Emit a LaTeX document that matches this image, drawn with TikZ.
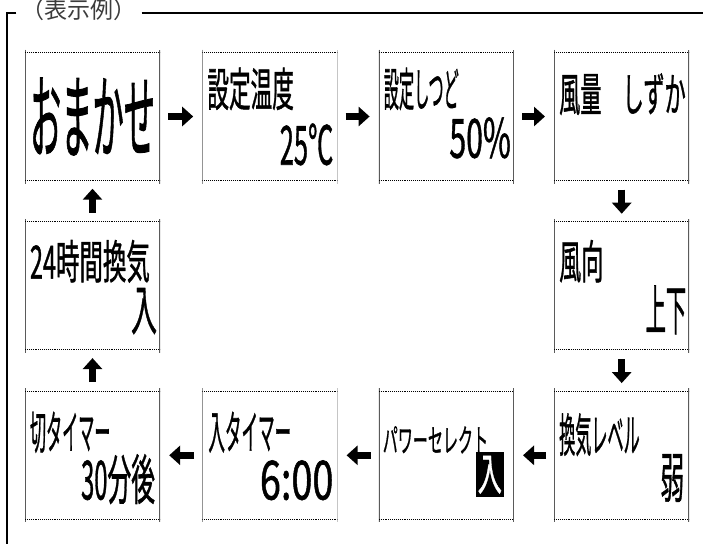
\documentclass[tikz,border=0pt]{standalone}
\usepackage{fontspec}
\usepackage{graphicx}
\usetikzlibrary{arrows.meta,positioning,calc}
\newfontfamily\jp{Noto Sans CJK JP}[FakeBold=1.2]
\newfontfamily\jplight{Noto Sans CJK JP}
\definecolor{PanelGray}{HTML}{5A5A5A}
\definecolor{TitleGray}{HTML}{3C3C3C}
\newcommand{\squeeze}[2]{\scalebox{#1}[1]{#2}}
\tikzset{
  panel/.style={minimum width=135pt, minimum height=134pt, inner sep=0pt,
    path picture={
      \draw[PanelGray, line width=1.6pt]
        (path picture bounding box.north west) -- (path picture bounding box.south west)
        (path picture bounding box.north east) -- (path picture bounding box.south east);
      \draw[black, densely dotted, line width=0.9pt]
        ([yshift=-3pt]path picture bounding box.north west) -- ([yshift=-3pt]path picture bounding box.north east)
        ([yshift=3pt]path picture bounding box.south west) -- ([yshift=3pt]path picture bounding box.south east);
    }},
  caption/.style={anchor=base west, inner sep=0pt, font=\jp\fontsize{46}{46}\selectfont},
  reading/.style={anchor=base east, inner sep=0pt, font=\jp\fontsize{54}{54}\selectfont},
  flowarrow/.style={line width=7.5pt, -{Triangle[width=19pt, length=11pt]},
    shorten <=8pt, shorten >=9pt},
  frame/.style={line width=1.3pt, black}
}

\begin{document}
\begin{tikzpicture}[node distance=35pt and 42pt]
  \useasboundingbox (0,0) rectangle (703pt,-544pt);

  % frame with title
  \node[font=\jplight\fontsize{23}{23}\selectfont, text=TitleGray, inner sep=0pt] (title)
    at (79pt,-10pt) {（表示例）};
  \draw[frame] ([xshift=-5pt]title.west |- 0,-13pt) -- (7pt,-13pt) -- (7pt,-544pt);
  \draw[frame] ([xshift=5pt]title.east |- 0,-13pt) -- (703pt,-13pt);

  % panels
  \node[panel, font=\jp\fontsize{92}{92}\selectfont] (omakase) at (92.5pt,-116.5pt)
    {\squeeze{0.34}{おまかせ}};
  \node[panel, right=of omakase] (settemp) {};
  \node[panel, right=41pt of settemp] (sethum) {};
  \node[panel, right=40pt of sethum] (fanvol) {};
  \node[panel, below=of fanvol] (fandir) {};
  \node[panel, below=of fandir] (ventlvl) {};
  \node[panel, left=40pt of ventlvl] (powersel) {};
  \node[panel, left=41pt of powersel] (ontimer) {};
  \node[panel, left=of ontimer] (offtimer) {};
  \node[panel, below=of omakase] (vent24) {};

  % texts
  \node[caption] (settemp-c) at ([shift={(5pt,-57pt)}]settemp.north west) {\squeeze{0.47}{設定温度}};
  \node[reading] (settemp-v) at ([shift={(-4pt,19pt)}]settemp.south east) {\squeeze{0.47}{25℃}};
  \node[caption] (sethum-c) at ([shift={(5pt,-57pt)}]sethum.north west) {\squeeze{0.33}{設定しつど}};
  \node[reading] (sethum-v) at ([shift={(-3pt,26pt)}]sethum.south east) {\squeeze{0.56}{50\%}};
  \node[caption] (fanvol-c) at ([shift={(5pt,-62pt)}]fanvol.north west) {\squeeze{0.46}{風量　しずか}};
  \node[caption] (fandir-c) at ([shift={(5pt,-60pt)}]fandir.north west) {\squeeze{0.48}{風向}};
  \node[reading] (fandir-v) at ([shift={(-3pt,23pt)}]fandir.south east) {\squeeze{0.375}{上下}};
  \node[caption] (vent24-c) at ([shift={(5pt,-60pt)}]vent24.north west) {\squeeze{0.51}{24時間換気}};
  \node[reading] (vent24-v) at ([shift={(-3pt,23pt)}]vent24.south east) {\squeeze{0.48}{入}};
  \node[caption] (ventlvl-c) at ([shift={(5pt,-64pt)}]ventlvl.north west) {\squeeze{0.35}{換気レベル}};
  \node[reading] (ventlvl-v) at ([shift={(-5pt,25pt)}]ventlvl.south east) {\squeeze{0.44}{弱}};
  \node[caption, font=\jp\fontsize{32}{32}\selectfont] (powersel-c)
    at ([shift={(4pt,-64pt)}]powersel.north west) {\squeeze{0.47}{パワーセレクト}};
  \node[anchor=south east, fill=black, text=white, minimum width=28pt, minimum height=45pt,
    inner sep=0pt, font=\jp\fontsize{44}{44}\selectfont] (powersel-v)
    at ([shift={(-10pt,25pt)}]powersel.south east) {\squeeze{0.55}{入}};
  \node[caption] (ontimer-c) at ([shift={(6pt,-61pt)}]ontimer.north west) {\squeeze{0.36}{入タイマー}};
  \node[reading] (ontimer-v) at ([shift={(-4pt,23pt)}]ontimer.south east) {\squeeze{0.70}{6:00}};
  \node[caption] (offtimer-c) at ([shift={(5pt,-61pt)}]offtimer.north west) {\squeeze{0.35}{切タイマー}};
  \node[reading] (offtimer-v) at ([shift={(-5pt,23pt)}]offtimer.south east) {\squeeze{0.44}{30分後}};

  % arrows
  \draw[flowarrow] (omakase) -- (settemp);
  \draw[flowarrow] (settemp) -- (sethum);
  \draw[flowarrow] (sethum) -- (fanvol);
  \draw[flowarrow, shorten <=6pt, shorten >=5pt] (fanvol) -- (fandir);
  \draw[flowarrow, shorten <=6pt, shorten >=5pt] (fandir) -- (ventlvl);
  \draw[flowarrow] (ventlvl) -- (powersel);
  \draw[flowarrow] (powersel) -- (ontimer);
  \draw[flowarrow] (ontimer) -- (offtimer);
  \draw[flowarrow, shorten <=6pt, shorten >=5pt] (offtimer) -- (vent24);
  \draw[flowarrow, shorten <=6pt, shorten >=5pt] (vent24) -- (omakase);
\end{tikzpicture}
\end{document}
